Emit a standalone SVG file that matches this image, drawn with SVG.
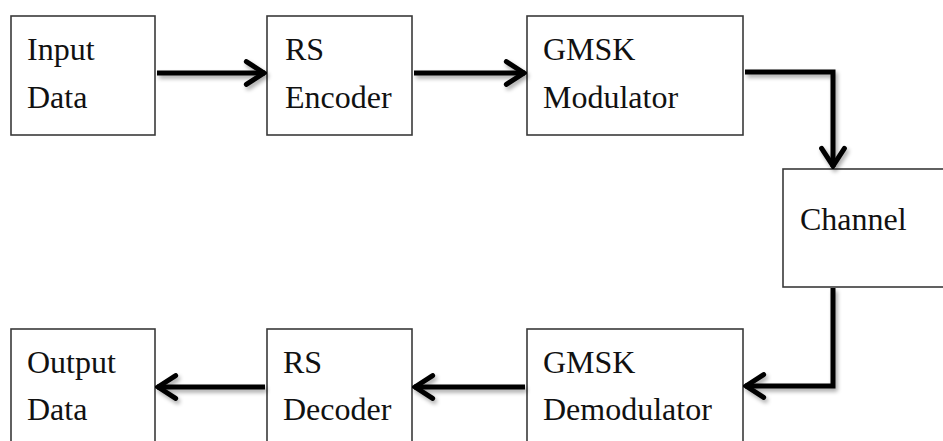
<svg xmlns="http://www.w3.org/2000/svg" width="943" height="441" viewBox="0 0 943 441">
  <style>
    .box { fill: #ffffff; stroke: #3a3a3a; stroke-width: 1.6; }
    .lbl { font-family: "Liberation Serif", "Times New Roman", serif; font-size: 32px; fill: #111111; }
    .wire { fill: none; stroke: #000000; stroke-width: 5; stroke-linejoin: miter; filter: url(#shade); }
  </style>
  <defs>
    <marker id="chev" viewBox="0 0 12 14" refX="11" refY="7" markerWidth="5" markerHeight="5.8" orient="auto" markerUnits="strokeWidth">
      <path d="M2,1.5 L10.5,7 L2,12.5" fill="none" stroke="#000000" stroke-width="2.4" stroke-linecap="round" stroke-linejoin="miter"/>
    </marker>
    <!-- soft drop shadow under the connector lines -->
    <filter id="shade" filterUnits="userSpaceOnUse" x="0" y="0" width="943" height="441">
      <feGaussianBlur in="SourceAlpha" stdDeviation="2"/>
      <feOffset dx="1.5" dy="2.5" result="b"/>
      <feComponentTransfer><feFuncA type="linear" slope="0.35"/></feComponentTransfer>
      <feMerge><feMergeNode/><feMergeNode in="SourceGraphic"/></feMerge>
    </filter>
  </defs>

  <g id="input-data">
    <rect class="box" x="11" y="16" width="144" height="119"/>
    <text class="lbl" x="27" y="60">Input</text>
    <text class="lbl" x="27" y="108">Data</text>
  </g>
  <g id="rs-encoder">
    <rect class="box" x="267" y="16" width="145" height="119"/>
    <text class="lbl" x="285" y="60">RS</text>
    <text class="lbl" x="285" y="108">Encoder</text>
  </g>
  <g id="gmsk-modulator">
    <rect class="box" x="527" y="16" width="216" height="119"/>
    <text class="lbl" x="543" y="60">GMSK</text>
    <text class="lbl" x="543" y="108">Modulator</text>
  </g>
  <g id="channel">
    <rect class="box" x="783" y="169" width="170" height="118"/>
    <text class="lbl" x="800" y="230">Channel</text>
  </g>
  <g id="output-data">
    <rect class="box" x="11" y="329" width="144" height="130"/>
    <text class="lbl" x="27" y="373">Output</text>
    <text class="lbl" x="27" y="420">Data</text>
  </g>
  <g id="rs-decoder">
    <rect class="box" x="267" y="329" width="145" height="130"/>
    <text class="lbl" x="283" y="373">RS</text>
    <text class="lbl" x="283" y="420">Decoder</text>
  </g>
  <g id="gmsk-demodulator">
    <rect class="box" x="527" y="329" width="216" height="130"/>
    <text class="lbl" x="543" y="373">GMSK</text>
    <text class="lbl" x="543" y="420">Demodulator</text>
  </g>

  <g id="connectors">
    <path class="wire" d="M157,73 H265" marker-end="url(#chev)"/>
    <path class="wire" d="M414,73 H525" marker-end="url(#chev)"/>
    <path class="wire" d="M745,72 H833 V167" marker-end="url(#chev)"/>
    <path class="wire" d="M833,288 V386 H745" marker-end="url(#chev)"/>
    <path class="wire" d="M525,387 H414" marker-end="url(#chev)"/>
    <path class="wire" d="M265,387 H157" marker-end="url(#chev)"/>
  </g>
</svg>
